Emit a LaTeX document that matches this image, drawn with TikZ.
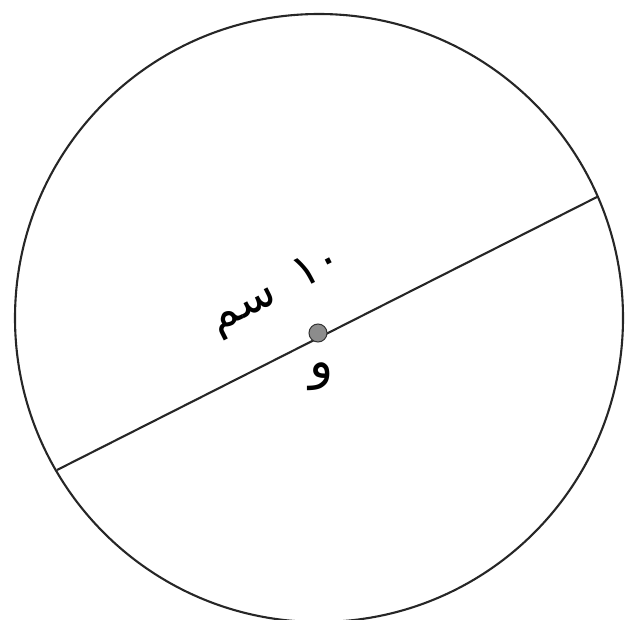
\documentclass[tikz,border=0pt]{standalone}
\usepackage{fontspec}
\TeXXeTstate=1
\newfontfamily\arabicfont[Script=Arabic]{DejaVu Sans}
\begin{document}
\begin{tikzpicture}[x=1pt,y=-1pt,
  rim/.style={draw=black!85,line width=2.1pt},
  diam/.style={draw=black!85,line width=2.1pt},
  centre/.style={circle,draw=black!80,fill=black!45,line width=1pt,minimum size=18pt,inner sep=0pt},
  lbl/.style={font=\arabicfont\fontsize{46}{48}\selectfont,inner sep=0pt}]
\useasboundingbox (0,0) rectangle (626,620);
\draw[rim] (319,318) circle [radius=304];
\coordinate (A) at (57,470);
\coordinate (B) at (597,197);
\draw[diam] (A) -- (B);
\node[centre] (O) at (318,333) {};
\node[lbl] (L) at (277,292) [rotate=26.8] {\beginR\beginL ١٠\endL\hspace{0.55em}سم\endR};
\node[lbl,font=\arabicfont\fontsize{50}{52}\selectfont] (W) at (322,377) {\beginR و\endR};
\end{tikzpicture}
\end{document}
